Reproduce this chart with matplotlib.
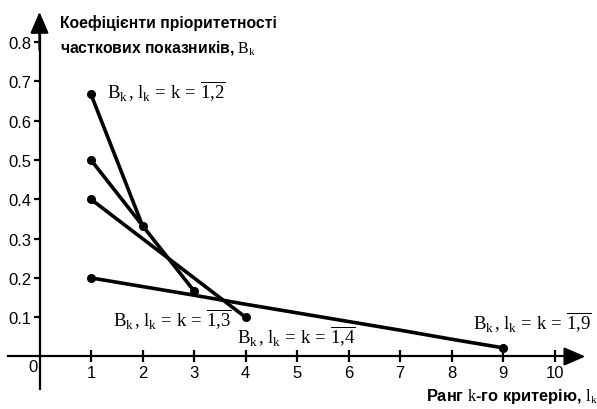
import matplotlib
matplotlib.use("Agg")
import matplotlib.pyplot as plt

plt.rcParams['mathtext.fontset'] = 'custom'
plt.rcParams['mathtext.rm'] = 'Liberation Serif'
plt.rcParams['mathtext.it'] = 'Liberation Serif:italic'

# Data: rank-based priority coefficients B_k for n = 2, 3, 4, 9 criteria
ranks_2 = [1, 2]
coef_2 = [0.667, 0.333]
ranks_3 = [1, 2, 3]
coef_3 = [0.5, 0.333, 0.167]
ranks_4 = [1, 2, 3, 4]
coef_4 = [0.4, 0.3, 0.2, 0.1]
ranks_9 = [1, 2, 3, 4, 5, 6, 7, 8, 9]
coef_9 = [0.2, 0.178, 0.156, 0.133, 0.111, 0.089, 0.067, 0.044, 0.022]

x_ticks = [1, 2, 3, 4, 5, 6, 7, 8, 9, 10]
y_ticks = [0.1, 0.2, 0.3, 0.4, 0.5, 0.6, 0.7, 0.8]

fig = plt.figure(figsize=(5.97, 4.10), dpi=100)
ax = fig.add_axes([0, 0, 1, 1])
ax.set_xlim(-0.767, 10.825)
ax.set_ylim(-0.1336, 0.9097)

for sp in ['top', 'right']:
    ax.spines[sp].set_visible(False)
ax.spines['left'].set_position(('data', 0))
ax.spines['bottom'].set_position(('data', 0))
ax.spines['left'].set_bounds(-0.083, 0.84)
ax.spines['bottom'].set_bounds(-0.61, 10.4)
for sp in ['left', 'bottom']:
    ax.spines[sp].set_linewidth(1.6)

ax.set_xticks(x_ticks)
ax.set_yticks(y_ticks)
ax.set_xticklabels([str(v) for v in x_ticks])
ax.set_yticklabels([f"{v:.1f}" for v in y_ticks])
ax.tick_params(axis='x', direction='inout', length=8, width=1.6, pad=2,
               labelsize=12)
ax.tick_params(axis='y', direction='out', length=4, width=1.6, pad=2,
               labelsize=12)
for lab in ax.get_xticklabels() + ax.get_yticklabels():
    lab.set_fontfamily('Liberation Sans')

# arrows at axis ends
arrow_style = '-|>,head_length=0.65,head_width=0.28'
ax.annotate('', xy=(10.6, 0), xytext=(10.2, 0),
            arrowprops=dict(arrowstyle=arrow_style, mutation_scale=20, lw=1.6,
                            color='black', shrinkA=0, shrinkB=0))
ax.annotate('', xy=(0, 0.877), xytext=(0, 0.78),
            arrowprops=dict(arrowstyle=arrow_style, mutation_scale=20, lw=1.6,
                            color='black', shrinkA=0, shrinkB=0))

ax.text(-0.13, -0.025, '0', fontsize=12, family='Liberation Sans',
        ha='center', va='center')

for xs, ys in [(ranks_2, coef_2), (ranks_3, coef_3), (ranks_4, coef_4), (ranks_9, coef_9)]:
    ax.plot(xs, ys, color='black', lw=2.6, marker='o', markersize=5.5,
            markevery=[0, len(xs) - 1], solid_capstyle='round')

lab_fs = 13.5
def lbl(n):
    return r'$\mathrm{B_k\,{,}\;l_k\,=\,k\,=\,\overline{1{,}' + str(n) + '}}$'

ax.text(1.31, 0.675, lbl(2), fontsize=lab_fs, ha='left', va='center')
ax.text(1.43, 0.095, lbl(3), fontsize=lab_fs, ha='left', va='center')
ax.text(3.84, 0.052, lbl(4), fontsize=lab_fs, ha='left', va='center')
ax.text(8.42, 0.088, lbl(9), fontsize=lab_fs, ha='left', va='center')

ax.text(0.4, 0.850, 'Коефіцієнти пріоритетності', fontsize=11.3,
        family='Liberation Sans', weight='bold', ha='left', va='center')
ax.text(0.4, 0.787, r'часткових показників, $\mathrm{B_k}$', fontsize=11.3,
        family='Liberation Sans', weight='bold', ha='left', va='center')
ax.text(10.83, -0.1, r'Ранг $\mathrm{k}$-го критерію, $\mathrm{l_k}$', fontsize=11.8,
        family='Liberation Sans', weight='bold', ha='right', va='center')

fig.savefig('out.png', dpi=100)
